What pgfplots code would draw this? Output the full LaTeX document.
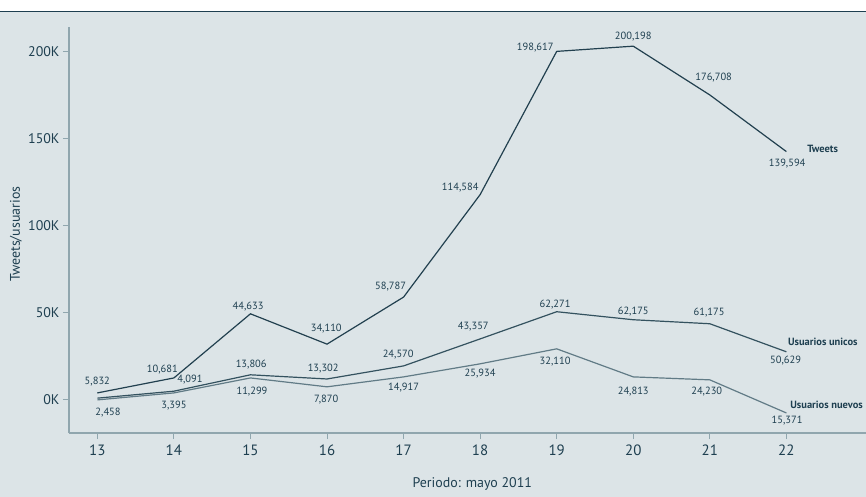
\documentclass[border=0pt]{standalone}
\usepackage{pgfplots}
\pgfplotsset{compat=1.18}
\usepackage{fontspec}
\setmainfont{PT Sans}

\definecolor{bg}{HTML}{DCE4E7}
\definecolor{ink}{HTML}{1E3F50}
\definecolor{tw}{HTML}{22404F}
\definecolor{un}{HTML}{34525F}
\definecolor{nu}{HTML}{617B86}
\definecolor{ax}{HTML}{90A6AE}

\newcommand{\lbl}{\fontsize{10.5}{10.5}\selectfont}

\begin{document}
\begin{tikzpicture}
\fill[white] (-69bp,-64bp) rectangle (797bp,433bp);
\fill[bg] (-69bp,-64bp) rectangle (797bp,421.5bp);
\draw[ink, line width=1.5bp] (-69bp,421.5bp) -- (797bp,421.5bp);

\begin{axis}[
    scale only axis,
    width=797bp, height=406bp,
    at={(0,0)}, anchor=south west,
    xmin=12.63, xmax=23.04,
    ymin=-19000, ymax=214000,
    axis lines*=left,
    axis line style={-, ax, line width=2bp},
    xtick={13,...,22},
    ytick={0,50000,100000,150000,200000},
    yticklabels={0K,50K,100K,150K,200K},
    scaled y ticks=false,
    tick style={ax, line width=0.8bp},
    tick align=outside,
    major tick length=6bp,
    xticklabel style={font=\fontsize{15}{15}\selectfont, text=ink, yshift=-2bp},
    yticklabel style={font=\fontsize{14}{14}\selectfont, text=ink},
    /pgf/number format/assume math mode=true,
    xlabel={Periodo: mayo 2011},
    ylabel={Tweets/usuarios},
    xlabel style={at={(axis description cs:0.506,-0.1256)}, anchor=center,
        font=\fontsize{14}{14}\selectfont, text=ink},
    ylabel style={at={(axis description cs:-0.0665,0.49)}, anchor=center,
        font=\fontsize{14}{14}\selectfont, text=ink},
    clip=false,
]

% Tweets
\addplot[tw, line width=1.2bp] coordinates {
    (13,4000) (14,12600) (15,49400) (16,32000) (17,59000)
    (18,117800) (19,200000) (20,203000) (21,175000) (22,142500)};
% Usuarios unicos
\addplot[un, line width=1.2bp] coordinates {
    (13,1000) (14,5000) (15,14400) (16,12000) (17,19500)
    (18,35000) (19,50600) (20,46000) (21,43700) (22,27600)};
% Usuarios nuevos
\addplot[nu, line width=1.2bp] coordinates {
    (13,0) (14,4000) (15,12600) (16,7500) (17,13200)
    (18,20700) (19,29300) (20,13200) (21,11500) (22,-7500)};

\begin{scope}[every node/.style={font=\lbl, text=ink, inner sep=0pt}]
% Tweets labels
\node at (axis cs:13.00,10300) {5,832};
\node at (axis cs:13.85,17200) {10,681};
\node at (axis cs:14.97,53400) {44,633};
\node at (axis cs:15.99,40800) {34,110};
\node at (axis cs:16.83,64900) {58,787};
\node at (axis cs:17.74,121800) {114,584};
\node at (axis cs:18.72,202300) {198,617};
\node at (axis cs:20.00,208600) {200,198};
\node at (axis cs:21.05,185100) {176,708};
\node at (axis cs:22.01,135600) {139,594};
\node[anchor=west] at (axis cs:22.27,144200) {\bfseries Tweets};
% Usuarios unicos labels
\node at (axis cs:14.21,11500) {4,091};
\node at (axis cs:15.01,20100) {13,806};
\node at (axis cs:15.95,17800) {13,302};
\node at (axis cs:16.93,25900) {24,570};
\node at (axis cs:17.91,42000) {43,357};
\node at (axis cs:18.98,54600) {62,271};
\node at (axis cs:20.00,50600) {62,175};
\node at (axis cs:20.99,50000) {61,175};
\node at (axis cs:21.99,22400) {50,629};
\node[anchor=west] at (axis cs:22.02,33300) {\bfseries Usuarios unicos};
% Usuarios nuevos labels
\node at (axis cs:13.14,-7500) {2,458};
\node at (axis cs:14.00,-3400) {3,395};
\node at (axis cs:15.02,4600) {11,299};
\node at (axis cs:15.99,0) {7,870};
\node at (axis cs:17.00,6900) {14,917};
\node at (axis cs:18.00,14900) {25,934};
\node at (axis cs:18.98,21800) {32,110};
\node at (axis cs:20.00,4600) {24,813};
\node at (axis cs:20.96,4600) {24,230};
\node at (axis cs:22.01,-12100) {15,371};
\node[anchor=west] at (axis cs:22.05,-2900) {\bfseries Usuarios nuevos};
\end{scope}
\end{axis}

\pgfresetboundingbox
\path[use as bounding box] (-69bp,-64bp) rectangle (797bp,433bp);
\end{tikzpicture}
\end{document}
